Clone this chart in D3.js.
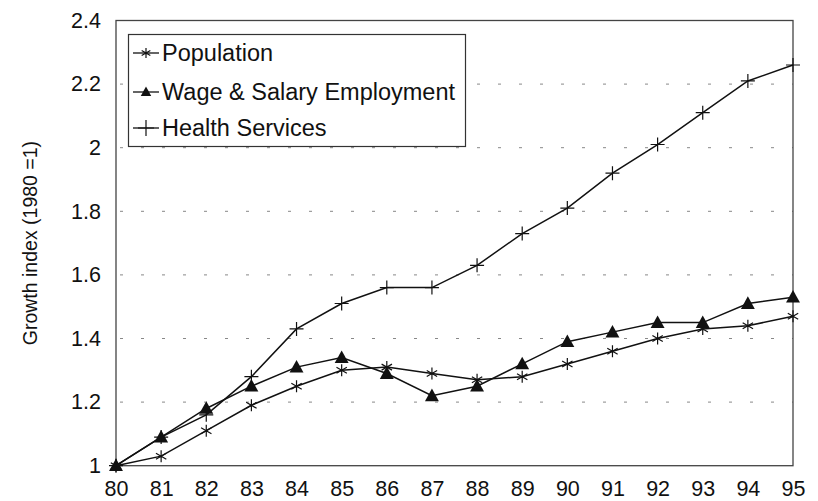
<!DOCTYPE html>
<html><head><meta charset="utf-8">
<script src="https://cdn.jsdelivr.net/npm/d3@7"></script>
<style>body{margin:0;background:#fff}svg{display:block}text{font-family:"Liberation Sans",Arial,sans-serif;fill:#111}</style>
</head><body><svg id="c" width="818" height="501"></svg>
<script>
const years = ["80","81","82","83","84","85","86","87","88","89","90","91","92","93","94","95"];
const population = [1.00,1.03,1.11,1.19,1.25,1.30,1.31,1.29,1.27,1.28,1.32,1.36,1.40,1.43,1.44,1.47];
const wageSalary = [1.00,1.09,1.18,1.25,1.31,1.34,1.29,1.22,1.25,1.32,1.39,1.42,1.45,1.45,1.51,1.53];
const healthServices = [1.00,1.09,1.16,1.28,1.43,1.51,1.56,1.56,1.63,1.73,1.81,1.92,2.01,2.11,2.21,2.26];
const yTicks = [1,1.2,1.4,1.6,1.8,2,2.2,2.4];
const seriesNames = ["Population","Wage & Salary Employment","Health Services"];

const svg = d3.select("#c");
const L=116, R=793, T=20.5, B=465.7;
const x = d3.scalePoint().domain(years).range([L,R]);
const y = d3.scaleLinear().domain([1,2.4]).range([B,T]);

// gridlines
svg.append("g").selectAll("line").data(yTicks.filter(v=>v>1&&v<2.4)).join("line")
  .attr("x1",L+4).attr("x2",R).attr("y1",d=>y(d)).attr("y2",d=>y(d))
  .attr("stroke","#888").attr("stroke-width",1).attr("stroke-dasharray","3,18");

// frame
svg.append("rect").attr("x",L).attr("y",T).attr("width",R-L).attr("height",B-T)
  .attr("fill","none").attr("stroke","#444").attr("stroke-width",1.3);

// y axis labels
const yAxis = d3.axisLeft(y).tickValues(yTicks).tickSize(0).tickPadding(15).tickFormat(d3.format("~g"));
const ya = svg.append("g").attr("transform",`translate(${L},0)`).call(yAxis);
ya.select(".domain").remove();
ya.selectAll("text").attr("font-size",21.5).attr("font-family","Liberation Sans, Arial, sans-serif").attr("fill","#111");

// x axis labels
const xAxis = d3.axisBottom(x).tickSize(0).tickPadding(15);
const xa = svg.append("g").attr("transform",`translate(0,${B})`).call(xAxis);
xa.select(".domain").remove();
xa.selectAll("text").attr("font-size",21.5).attr("font-family","Liberation Sans, Arial, sans-serif").attr("fill","#111");

// y title
svg.append("text").attr("transform",`translate(37,${(T+B)/2}) rotate(-90)`)
  .attr("text-anchor","middle").attr("font-size",19.5).text("Growth index (1980 =1)");

const line = d3.line().x((d,i)=>x(years[i])).y(d=>y(d));
const data = [population, wageSalary, healthServices];
data.forEach(s=>{
  svg.append("path").datum(s).attr("d",line).attr("fill","none").attr("stroke","#111").attr("stroke-width",1.5);
});

function star(g,cx,cy,r){
  const p = d3.path();
  p.moveTo(cx,cy-r); p.lineTo(cx,cy+r);
  const a=Math.PI/6;
  p.moveTo(cx-r*Math.cos(a),cy-r*Math.sin(a)); p.lineTo(cx+r*Math.cos(a),cy+r*Math.sin(a));
  p.moveTo(cx-r*Math.cos(a),cy+r*Math.sin(a)); p.lineTo(cx+r*Math.cos(a),cy-r*Math.sin(a));
  g.append("path").attr("d",p.toString()).attr("stroke","#111").attr("stroke-width",1.2).attr("fill","none");
}
function tri(g,cx,cy,s){
  g.append("path").attr("d",`M${cx},${cy-s*0.6}L${cx+s*0.58},${cy+s*0.45}L${cx-s*0.58},${cy+s*0.45}Z`).attr("fill","#111");
}
function plus(g,cx,cy,r){
  g.append("path").attr("d",`M${cx-r},${cy}H${cx+r}M${cx},${cy-r}V${cy+r}`).attr("stroke","#111").attr("stroke-width",1.2);
}
const mk = svg.append("g");
population.forEach((v,i)=>star(mk,x(years[i]),y(v),6));
wageSalary.forEach((v,i)=>tri(mk,x(years[i]),y(v),12));
healthServices.forEach((v,i)=>plus(mk,x(years[i]),y(v),7));

// legend
const lg = svg.append("g");
lg.append("rect").attr("x",128.5).attr("y",34.5).attr("width",337).attr("height",112)
  .attr("fill","#fff").attr("stroke","#333").attr("stroke-width",1.2);
const rows=[53,92,128];
const markers=[star,tri,plus];
const msz=[5,9,8];
seriesNames.forEach((n,i)=>{
  lg.append("line").attr("x1",133).attr("x2",159).attr("y1",rows[i]).attr("y2",rows[i]).attr("stroke","#111").attr("stroke-width",1.3);
  markers[i](lg,146,rows[i],msz[i]);
  lg.append("text").attr("x",162).attr("y",rows[i]+8).attr("font-size",23.5).text(n);
});
</script></body></html>
